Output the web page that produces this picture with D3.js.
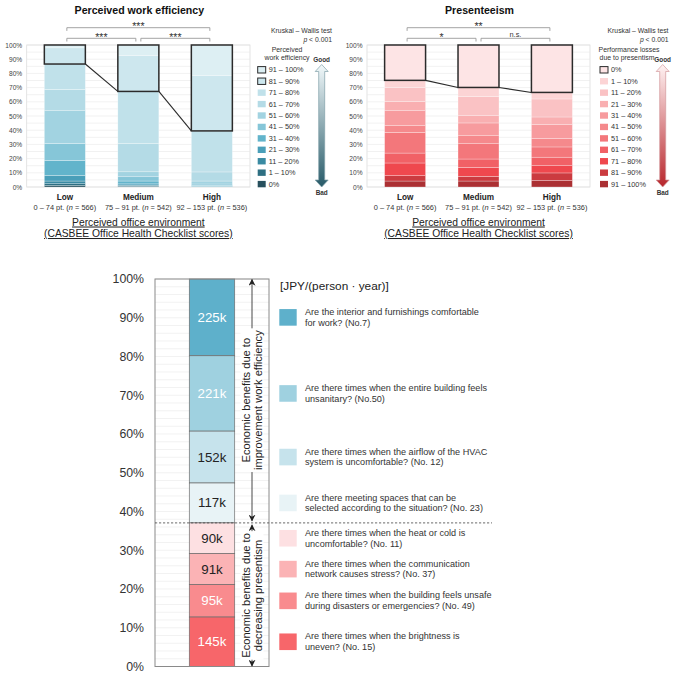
<!DOCTYPE html>
<html><head><meta charset="utf-8">
<script src="https://cdn.jsdelivr.net/npm/d3@7"></script>
<style>body{margin:0;background:#fff;} svg{display:block;font-family:"Liberation Sans",Arial,sans-serif;}</style>
</head><body>
<svg id="c" width="679" height="700"></svg>
<script>
// ---------- data ----------
const groups = ["Low", "Medium", "High"];
const groupPts = ["0 – 74 pt.", "75 – 91 pt.", "92 – 153 pt."];
const groupN = [566, 542, 536];
const pctTicks = [0, 10, 20, 30, 40, 50, 60, 70, 80, 90, 100];

// Perceived work efficiency (stack order bottom -> top)
const effCats = ["0%", "1 – 10%", "11 – 20%", "21 – 30%", "31 – 40%", "41 – 50%", "51 – 60%", "61 – 70%", "71 – 80%", "81 – 90%", "91 – 100%"];
const effColors = ["#27505d", "#2e6f82", "#3a8aa2", "#4a9fb9", "#62b4cb", "#86c6d8", "#a2d3e1", "#b4dbe6", "#c0e1ea", "#cde7ee", "#ddeff3"];
const effLow = [1.0, 1.3, 1.9, 4.0, 10.5, 12.0, 23.0, 15.0, 17.9, 11.4, 2.0];
const effMedium = [0.3, 0.5, 0.6, 0.8, 2.0, 3.0, 3.5, 20.0, 36.6, 25.2, 7.5];
const effHigh = [0.0, 0.1, 0.2, 0.3, 0.5, 1.0, 2.1, 6.4, 28.9, 38.9, 21.6];
const effSig = [["Low", "High", "***"], ["Low", "Medium", "***"], ["Medium", "High", "***"]];

// Presenteeism (stack order bottom -> top)
const presCats = ["91 – 100%", "81 – 90%", "71 – 80%", "61 – 70%", "51 – 60%", "41 – 50%", "31 – 40%", "21 – 30%", "11 – 20%", "1 – 10%", "0%"];
const presColors = ["#ab3033", "#cb3b40", "#ef484e", "#f16166", "#f3777b", "#f5898c", "#f79b9e", "#f9afb1", "#fac2c4", "#fcd4d5", "#fde4e5"];
const presLow = [4.2, 3.8, 8.9, 7.0, 14.6, 4.7, 10.5, 6.6, 9.8, 5.0, 24.9];
const presMedium = [4.2, 3.3, 6.3, 5.9, 10.8, 5.6, 9.0, 5.1, 13.6, 6.3, 29.9];
const presHigh = [4.6, 5.3, 5.1, 6.0, 7.2, 6.0, 9.7, 5.4, 12.7, 4.6, 33.4];
const presSig = [["Low", "High", "**"], ["Low", "Medium", "*"], ["Medium", "High", "n.s."]];

// Economic benefits (legend order, top -> bottom)
const benefitItems = [
  ["Are the interior and furnishings comfortable", "for work? (No.7)"],
  ["Are there times when the entire building feels", "unsanitary? (No.50)"],
  ["Are there times when the airflow of the HVAC", "system is uncomfortable? (No. 12)"],
  ["Are there meeting spaces that can be", "selected according to the situation? (No. 23)"],
  ["Are there times when the heat or cold is", "uncomfortable? (No. 11)"],
  ["Are there times when the communication", "network causes stress? (No. 37)"],
  ["Are there times when the building feels unsafe", "during disasters or emergencies? (No. 49)"],
  ["Are there times when the brightness is", "uneven? (No. 15)"]
];
const benefitValues = [225, 221, 152, 117, 90, 91, 95, 145];
const benefitColors = ["#5eb0cb", "#9fd1e0", "#c6e3ec", "#e8f3f6", "#fde0e2", "#fbb3b5", "#f98b8e", "#f7666a"];
const benefitTextColors = ["#fff", "#fff", "#222", "#222", "#222", "#222", "#fff", "#fff"];
const benefitGroups = [
  ["Economic benefits due to", "improvement work efficiency"],
  ["Economic benefits due to", "decreasing presentism"]
];

// ---------- drawing ----------
const svg = d3.select("#c");
const defs = svg.append("defs");

function panel(cfg) {
  const g = svg.append("g");
  const y = d3.scaleLinear().domain([0, 100]).range([187, 45]);
  const x = d3.scaleBand().domain(groups).range([cfg.left, cfg.right]).paddingInner(0.442).paddingOuter(0.24);

  // title
  g.append("text").attr("x", (cfg.left + cfg.right) / 2 + 1).attr("y", 14).attr("text-anchor", "middle")
    .attr("font-size", 10.6).attr("font-weight", "bold").attr("fill", "#111").text(cfg.title);

  // frame + grid
  g.append("rect").attr("x", cfg.left).attr("y", y(100)).attr("width", cfg.right - cfg.left).attr("height", y(0) - y(100))
    .attr("fill", "#fff").attr("stroke", "#ddd").attr("stroke-width", 0.8);
  g.selectAll(".grid").data(d3.range(0, 101, 5)).join("line")
    .attr("x1", cfg.left).attr("x2", cfg.right).attr("y1", d => y(d)).attr("y2", d => y(d))
    .attr("stroke", "#e8e8e8").attr("stroke-width", 0.6);

  // y axis labels
  const yAxis = d3.axisLeft(y).tickValues(pctTicks).tickFormat(d => d + "%").tickSize(0).tickPadding(0);
  const ya = g.append("g").attr("transform", `translate(${cfg.left - 4.5},0)`).call(yAxis);
  ya.select(".domain").remove();
  ya.selectAll("text").attr("font-size", 6.6).attr("fill", "#444").attr("font-family", "Liberation Sans, Arial, sans-serif");

  // stacked bars
  const rows = groups.map((gn, i) => { const o = { group: gn }; cfg.cats.forEach((c, j) => o[c] = cfg.values[i][j]); return o; });
  const series = d3.stack().keys(cfg.cats)(rows);
  series.forEach((s, j) => {
    g.append("g").selectAll("rect").data(s).join("rect")
      .attr("x", d => x(d.data.group)).attr("width", x.bandwidth())
      .attr("y", d => y(d[1])).attr("height", d => Math.max(0, y(d[0]) - y(d[1])))
      .attr("fill", cfg.colors[j]).attr("stroke", "rgba(255,255,255,0.55)").attr("stroke-width", 0.5);
  });

  // highlighted boxes
  const bi = cfg.boxFrom;
  const boxBottom = groups.map((gn, i) => series[bi][i][0]);
  groups.forEach((gn, i) => {
    g.append("rect").attr("x", x(gn)).attr("width", x.bandwidth()).attr("y", y(100)).attr("height", y(boxBottom[i]) - y(100))
      .attr("fill", "none").attr("stroke", "#2b2b2b").attr("stroke-width", 1.5);
  });
  for (let i = 0; i < groups.length - 1; i++) {
    g.append("line")
      .attr("x1", x(groups[i]) + x.bandwidth()).attr("y1", y(boxBottom[i]))
      .attr("x2", x(groups[i + 1])).attr("y2", y(boxBottom[i + 1]))
      .attr("stroke", "#2b2b2b").attr("stroke-width", 1.1);
  }

  // x labels
  groups.forEach((gn, i) => {
    const cx = x(gn) + x.bandwidth() / 2;
    g.append("text").attr("x", cx).attr("y", 200).attr("text-anchor", "middle").attr("font-size", 8.2)
      .attr("font-weight", "bold").attr("fill", "#222").text(gn);
    const t = g.append("text").attr("x", cx).attr("y", 210).attr("text-anchor", "middle").attr("font-size", 7.4).attr("fill", "#333");
    t.append("tspan").text(groupPts[i] + " (");
    t.append("tspan").attr("font-style", "italic").text("n");
    t.append("tspan").text(" = " + groupN[i] + ")");
  });
  const mid = (cfg.left + cfg.right) / 2;
  ["Perceived office environment", "(CASBEE Office Health Checklist scores)"].forEach((s, k) => {
    g.append("text").attr("x", mid).attr("y", 225.5 + k * 11.5).attr("text-anchor", "middle").attr("font-size", 10.3)
      .attr("fill", "#222").attr("text-decoration", "underline").text(s);
  });

  // significance brackets
  cfg.sig.forEach(([a, b, lab], k) => {
    const top = k === 0;
    const by = top ? 27.7 : 38.3;
    const ca = x(a) + x.bandwidth() / 2, cb = x(b) + x.bandwidth() / 2;
    const xa = ca + (a === "Medium" ? 2.5 : 2), xb = cb - (b === "Medium" ? 2.5 : 2);
    g.append("path").attr("d", `M${xa},${by + 3.2}V${by}H${xb}V${by + 3.2}`)
      .attr("fill", "none").attr("stroke", "#9a9a9a").attr("stroke-width", 0.9);
    const isStar = lab.indexOf("*") >= 0;
    g.append("text").attr("x", (xa + xb) / 2).attr("y", isStar ? by + 2.6 : by - 1.8).attr("text-anchor", "middle")
      .attr("font-size", isStar ? 10.5 : 7.4).attr("fill", "#333").text(lab);
  });

  // test annotation
  g.append("text").attr("x", cfg.kwX).attr("y", 33.3).attr("text-anchor", "end").attr("font-size", 6.8).attr("fill", "#333").text("Kruskal – Wallis test");
  const pt = g.append("text").attr("x", cfg.kwX).attr("y", 41.5).attr("text-anchor", "end").attr("font-size", 6.8).attr("fill", "#333");
  pt.append("tspan").attr("font-style", "italic").text("p");
  pt.append("tspan").text(" < 0.001");

  // legend
  cfg.legendTitle.forEach((s, k) => {
    g.append("text").attr("x", cfg.legTitleX[k]).attr("y", 51.5 + k * 8.2).attr("text-anchor", "middle")
      .attr("font-size", 6.9).attr("fill", "#333").text(s);
  });
  const order = d3.range(cfg.cats.length).reverse();
  order.forEach((j, r) => {
    const cy = 69.8 + r * 11.43;
    g.append("rect").attr("x", cfg.legX).attr("y", cy - 3.2).attr("width", 8).attr("height", 6.4)
      .attr("fill", cfg.colors[j]).attr("stroke", j >= bi ? "#2b2b2b" : "none").attr("stroke-width", 1);
    g.append("text").attr("x", cfg.legX + 11).attr("y", cy).attr("dominant-baseline", "central")
      .attr("font-size", 7.3).attr("fill", "#333").text(cfg.cats[j]);
  });

  // gradient arrow
  const gid = cfg.id + "grad";
  const lg = defs.append("linearGradient").attr("id", gid).attr("x1", 0).attr("y1", 0).attr("x2", 0).attr("y2", 1);
  lg.append("stop").attr("offset", "0%").attr("stop-color", cfg.arrowTop);
  lg.append("stop").attr("offset", "100%").attr("stop-color", cfg.arrowBottom);
  const cx = cfg.arrowX, yT = 64.5, yB = 187, hw = 6.5, hh = 7, sw = 3;
  const pts = [[cx, yT], [cx + hw, yT + hh], [cx + sw, yT + hh], [cx + sw, yB - hh], [cx + hw, yB - hh], [cx, yB],
    [cx - hw, yB - hh], [cx - sw, yB - hh], [cx - sw, yT + hh], [cx - hw, yT + hh]];
  g.append("path").attr("d", "M" + pts.map(p => p.join(",")).join("L") + "Z")
    .attr("fill", `url(#${gid})`).attr("stroke", cfg.arrowStroke).attr("stroke-width", 0.7);
  g.append("text").attr("x", cx).attr("y", 61.5).attr("text-anchor", "middle").attr("font-size", 6.4).attr("font-weight", "bold").attr("fill", "#333").text("Good");
  g.append("text").attr("x", cx).attr("y", 194.5).attr("text-anchor", "middle").attr("font-size", 6.4).attr("font-weight", "bold").attr("fill", "#333").text("Bad");
}

panel({
  id: "eff", title: "Perceived work efficiency", left: 26.7, right: 250, cats: effCats, colors: effColors,
  values: [effLow, effMedium, effHigh], boxFrom: 9, sig: effSig, kwX: 332,
  legendTitle: ["Perceived", "work efficiency"], legTitleX: [287, 287], legX: 257.7,
  arrowX: 321.7, arrowTop: "#f2f9fb", arrowBottom: "#275a68", arrowStroke: "#7f9fa8"
});
panel({
  id: "pres", title: "Presenteeism", left: 367, right: 590, cats: presCats, colors: presColors,
  values: [presLow, presMedium, presHigh], boxFrom: 10, sig: presSig, kwX: 668.5,
  legendTitle: ["Performance losses", "due to presentism"], legTitleX: [629, 627], legX: 600,
  arrowX: 662.7, arrowTop: "#fff3f3", arrowBottom: "#b8262c", arrowStroke: "#d39a9c"
});

// ---------- bottom chart ----------
(function () {
  const g = svg.append("g");
  const y = d3.scaleLinear().domain([0, 100]).range([666.5, 279]);
  const fx0 = 155, fx1 = 269;
  const bx = 189.3, bw = 45.4;

  g.append("rect").attr("x", fx0).attr("y", y(100)).attr("width", fx1 - fx0).attr("height", y(0) - y(100)).attr("fill", "#fff");
  g.selectAll(".gl").data(d3.range(0, 101, 2)).join("line")
    .attr("x1", fx0).attr("x2", fx1).attr("y1", d => y(d)).attr("y2", d => y(d))
    .attr("stroke", "#ececec").attr("stroke-width", 0.7);

  const yAxis = d3.axisLeft(y).tickValues(pctTicks).tickFormat(d => d + "%").tickSize(0).tickPadding(0);
  const ya = g.append("g").attr("transform", `translate(144,0)`).call(yAxis);
  ya.select(".domain").remove();
  ya.selectAll("text").attr("font-size", 12.3).attr("fill", "#333").attr("font-family", "Liberation Sans, Arial, sans-serif");

  const total = d3.sum(benefitValues);
  const idx = d3.range(benefitValues.length).reverse(); // bottom -> top
  const row = {};
  idx.forEach(i => row["k" + i] = benefitValues[i] / total * 100);
  const series = d3.stack().keys(idx.map(i => "k" + i))([row]);
  const segs = {};
  series.forEach((s, n) => { segs[idx[n]] = s[0]; });

  benefitValues.forEach((v, i) => {
    const s = segs[i];
    g.append("rect").attr("x", bx).attr("width", bw).attr("y", y(s[1])).attr("height", y(s[0]) - y(s[1]))
      .attr("fill", benefitColors[i]).attr("stroke", "#6d6d6d").attr("stroke-width", 0.7);
    g.append("text").attr("x", bx + bw / 2).attr("y", (y(s[0]) + y(s[1])) / 2).attr("dominant-baseline", "central")
      .attr("text-anchor", "middle").attr("font-size", 13.3).attr("fill", benefitTextColors[i]).text(v + "k");
  });

  g.append("rect").attr("x", fx0).attr("y", y(100)).attr("width", fx1 - fx0).attr("height", y(0) - y(100))
    .attr("fill", "none").attr("stroke", "#8a8a8a").attr("stroke-width", 1);

  // split line between blue and red groups
  const splitY = y(segs[3][0]);
  g.append("line").attr("x1", fx0).attr("x2", 492).attr("y1", splitY).attr("y2", splitY)
    .attr("stroke", "#444").attr("stroke-width", 0.8).attr("stroke-dasharray", "2.2,1.8");

  // arrows
  defs.append("marker").attr("id", "ah").attr("viewBox", "0 0 10 10").attr("refX", 9).attr("refY", 5)
    .attr("markerWidth", 7).attr("markerHeight", 7).attr("markerUnits", "userSpaceOnUse").attr("orient", "auto-start-reverse")
    .append("path").attr("d", "M0,0L10,5L0,10L3,5Z").attr("fill", "#222");
  const ax = 252;
  const spans = [[y(100), splitY - 1.5], [splitY + 1.5, y(0)]];
  spans.forEach(([a, b], k) => {
    g.append("line").attr("x1", ax).attr("x2", ax).attr("y1", a + 0.5).attr("y2", b - 0.5)
      .attr("stroke", "#333").attr("stroke-width", 0.9)
      .attr("marker-start", "url(#ah)").attr("marker-end", "url(#ah)");
    const cy = (a + b) / 2;
    const tg = g.append("g").attr("transform", `translate(${ax},${cy}) rotate(-90)`);
    const lines = benefitGroups[k];
    const texts = lines.map((s, m) => tg.append("text").attr("x", 0).attr("y", (m - 0.5) * 11.2)
      .attr("dominant-baseline", "central").attr("text-anchor", "middle").attr("font-size", 11.1).attr("fill", "#222").text(s));
    const w = d3.max(texts, t => t.node().getComputedTextLength());
    tg.insert("rect", "text").attr("x", -w / 2 - 2).attr("y", -11.5).attr("width", w + 4).attr("height", 23).attr("fill", "#fff");
  });

  // legend
  g.append("text").attr("x", 280).attr("y", 289.5).attr("font-size", 11.8).attr("fill", "#222").text("[JPY/(person · year)]");
  benefitItems.forEach((lines, i) => {
    const s = segs[i];
    const cy = (y(s[0]) + y(s[1])) / 2;
    g.append("rect").attr("x", 279.3).attr("y", cy - 8.3).attr("width", 17.4).attr("height", 16.6).attr("fill", benefitColors[i]);
    lines.forEach((ln, m) => {
      g.append("text").attr("x", 305).attr("y", cy + (m - 0.5) * 10.7).attr("dominant-baseline", "central")
        .attr("font-size", 9.1).attr("fill", "#333").text(ln);
    });
  });
})();
</script>
</body></html>
